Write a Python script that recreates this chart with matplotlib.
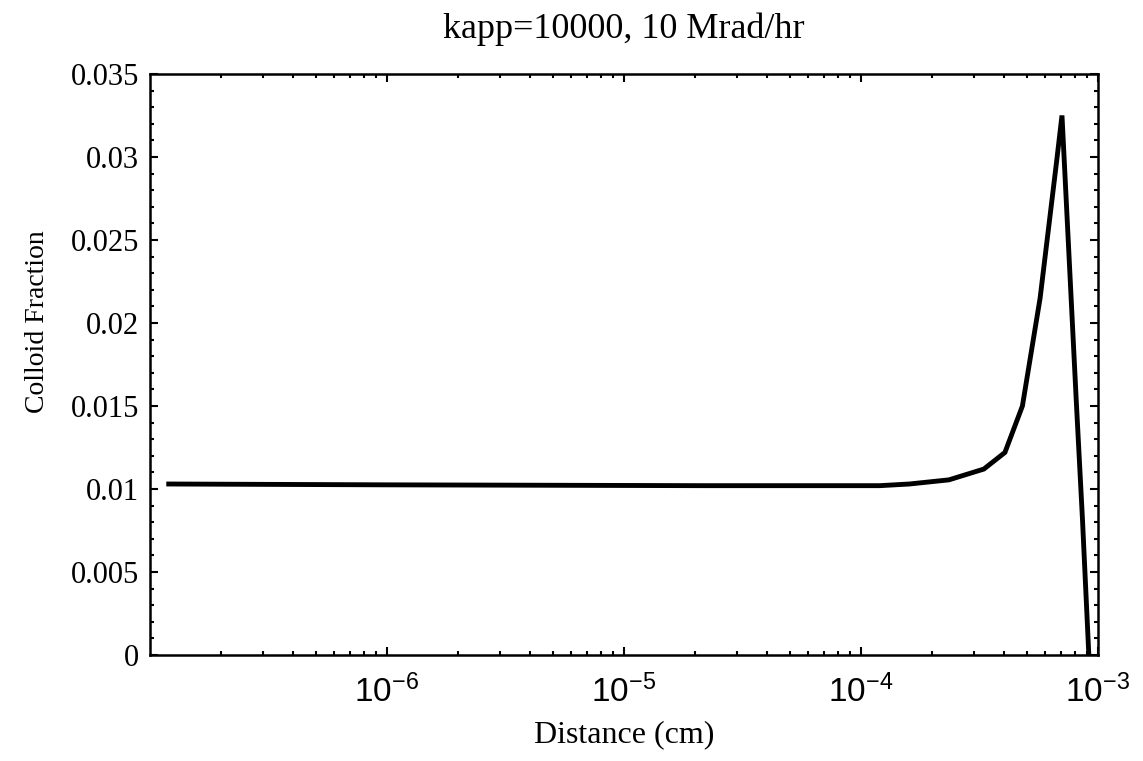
import numpy as np
import matplotlib
matplotlib.use('Agg')
import matplotlib.pyplot as plt
from matplotlib.ticker import FixedLocator, MultipleLocator, LogLocator, NullFormatter

# values
distance_cm = [1.2e-7, 1.0e-6, 2.1e-5, 1.2e-4, 1.6e-4, 2.35e-4, 3.3e-4,
               4.05e-4, 4.8e-4, 5.7e-4, 6.7e-4, 7.05e-4, 8.1e-4, 8.6e-4,
               9.15e-4]
colloid_fraction = [0.0103, 0.01025, 0.0102, 0.0102, 0.0103, 0.01055, 0.0112,
                    0.0122, 0.0150, 0.0215, 0.0298, 0.0325, 0.0153, 0.0082,
                    0.0]
xtick_values = [1e-6, 1e-5, 1e-4, 1e-3]
xtick_labels = [r'$\mathregular{10^{-6}}$', r'$\mathregular{10^{-5}}$',
                r'$\mathregular{10^{-4}}$', r'$\mathregular{10^{-3}}$']
ytick_values = [0, 0.005, 0.01, 0.015, 0.02, 0.025, 0.03, 0.035]
ytick_labels = ['0', '0.005', '0.01', '0.015', '0.02', '0.025', '0.03', '0.035']

plt.rcParams['font.family'] = ['Liberation Serif', 'DejaVu Serif']
plt.rcParams['xtick.direction'] = 'in'
plt.rcParams['ytick.direction'] = 'in'

fig = plt.figure(figsize=(11.43, 7.61), dpi=100)
ax = fig.add_axes([0.1312, 0.1393, 0.8294, 0.7635])

ax.plot(distance_cm, colloid_fraction, color='black', linewidth=3.5,
        solid_joinstyle='miter')

ax.set_xscale('log')
ax.set_xlim(1e-7, 1e-3)
ax.set_ylim(0, 0.035)

ax.xaxis.set_major_locator(FixedLocator(xtick_values))
ax.set_xticks(xtick_values)
ax.set_xticklabels(xtick_labels, fontsize=24, family='Liberation Sans')
ax.xaxis.set_minor_locator(LogLocator(base=10, subs=np.arange(2, 10)))
ax.xaxis.set_minor_formatter(NullFormatter())

ax.set_yticks(ytick_values)
ax.set_yticklabels(ytick_labels, fontsize=22)
ax.yaxis.set_minor_locator(MultipleLocator(0.001))

ax.tick_params(which='both', top=True, right=True, width=1.5)
ax.tick_params(which='major', length=6)
ax.tick_params(which='minor', length=3)
ax.tick_params(axis='x', which='major', pad=14)
ax.tick_params(axis='y', which='major', pad=8)

for spine in ax.spines.values():
    spine.set_linewidth(1.8)

ax.set_title('kapp=10000, 10 Mrad/hr', fontsize=26, pad=26)
ax.set_xlabel('Distance (cm)', fontsize=23, labelpad=8)
ax.set_ylabel('Colloid Fraction', fontsize=20)
ax.yaxis.set_label_coords(-0.105, 0.573)

fig.savefig('out.png', dpi=100)
